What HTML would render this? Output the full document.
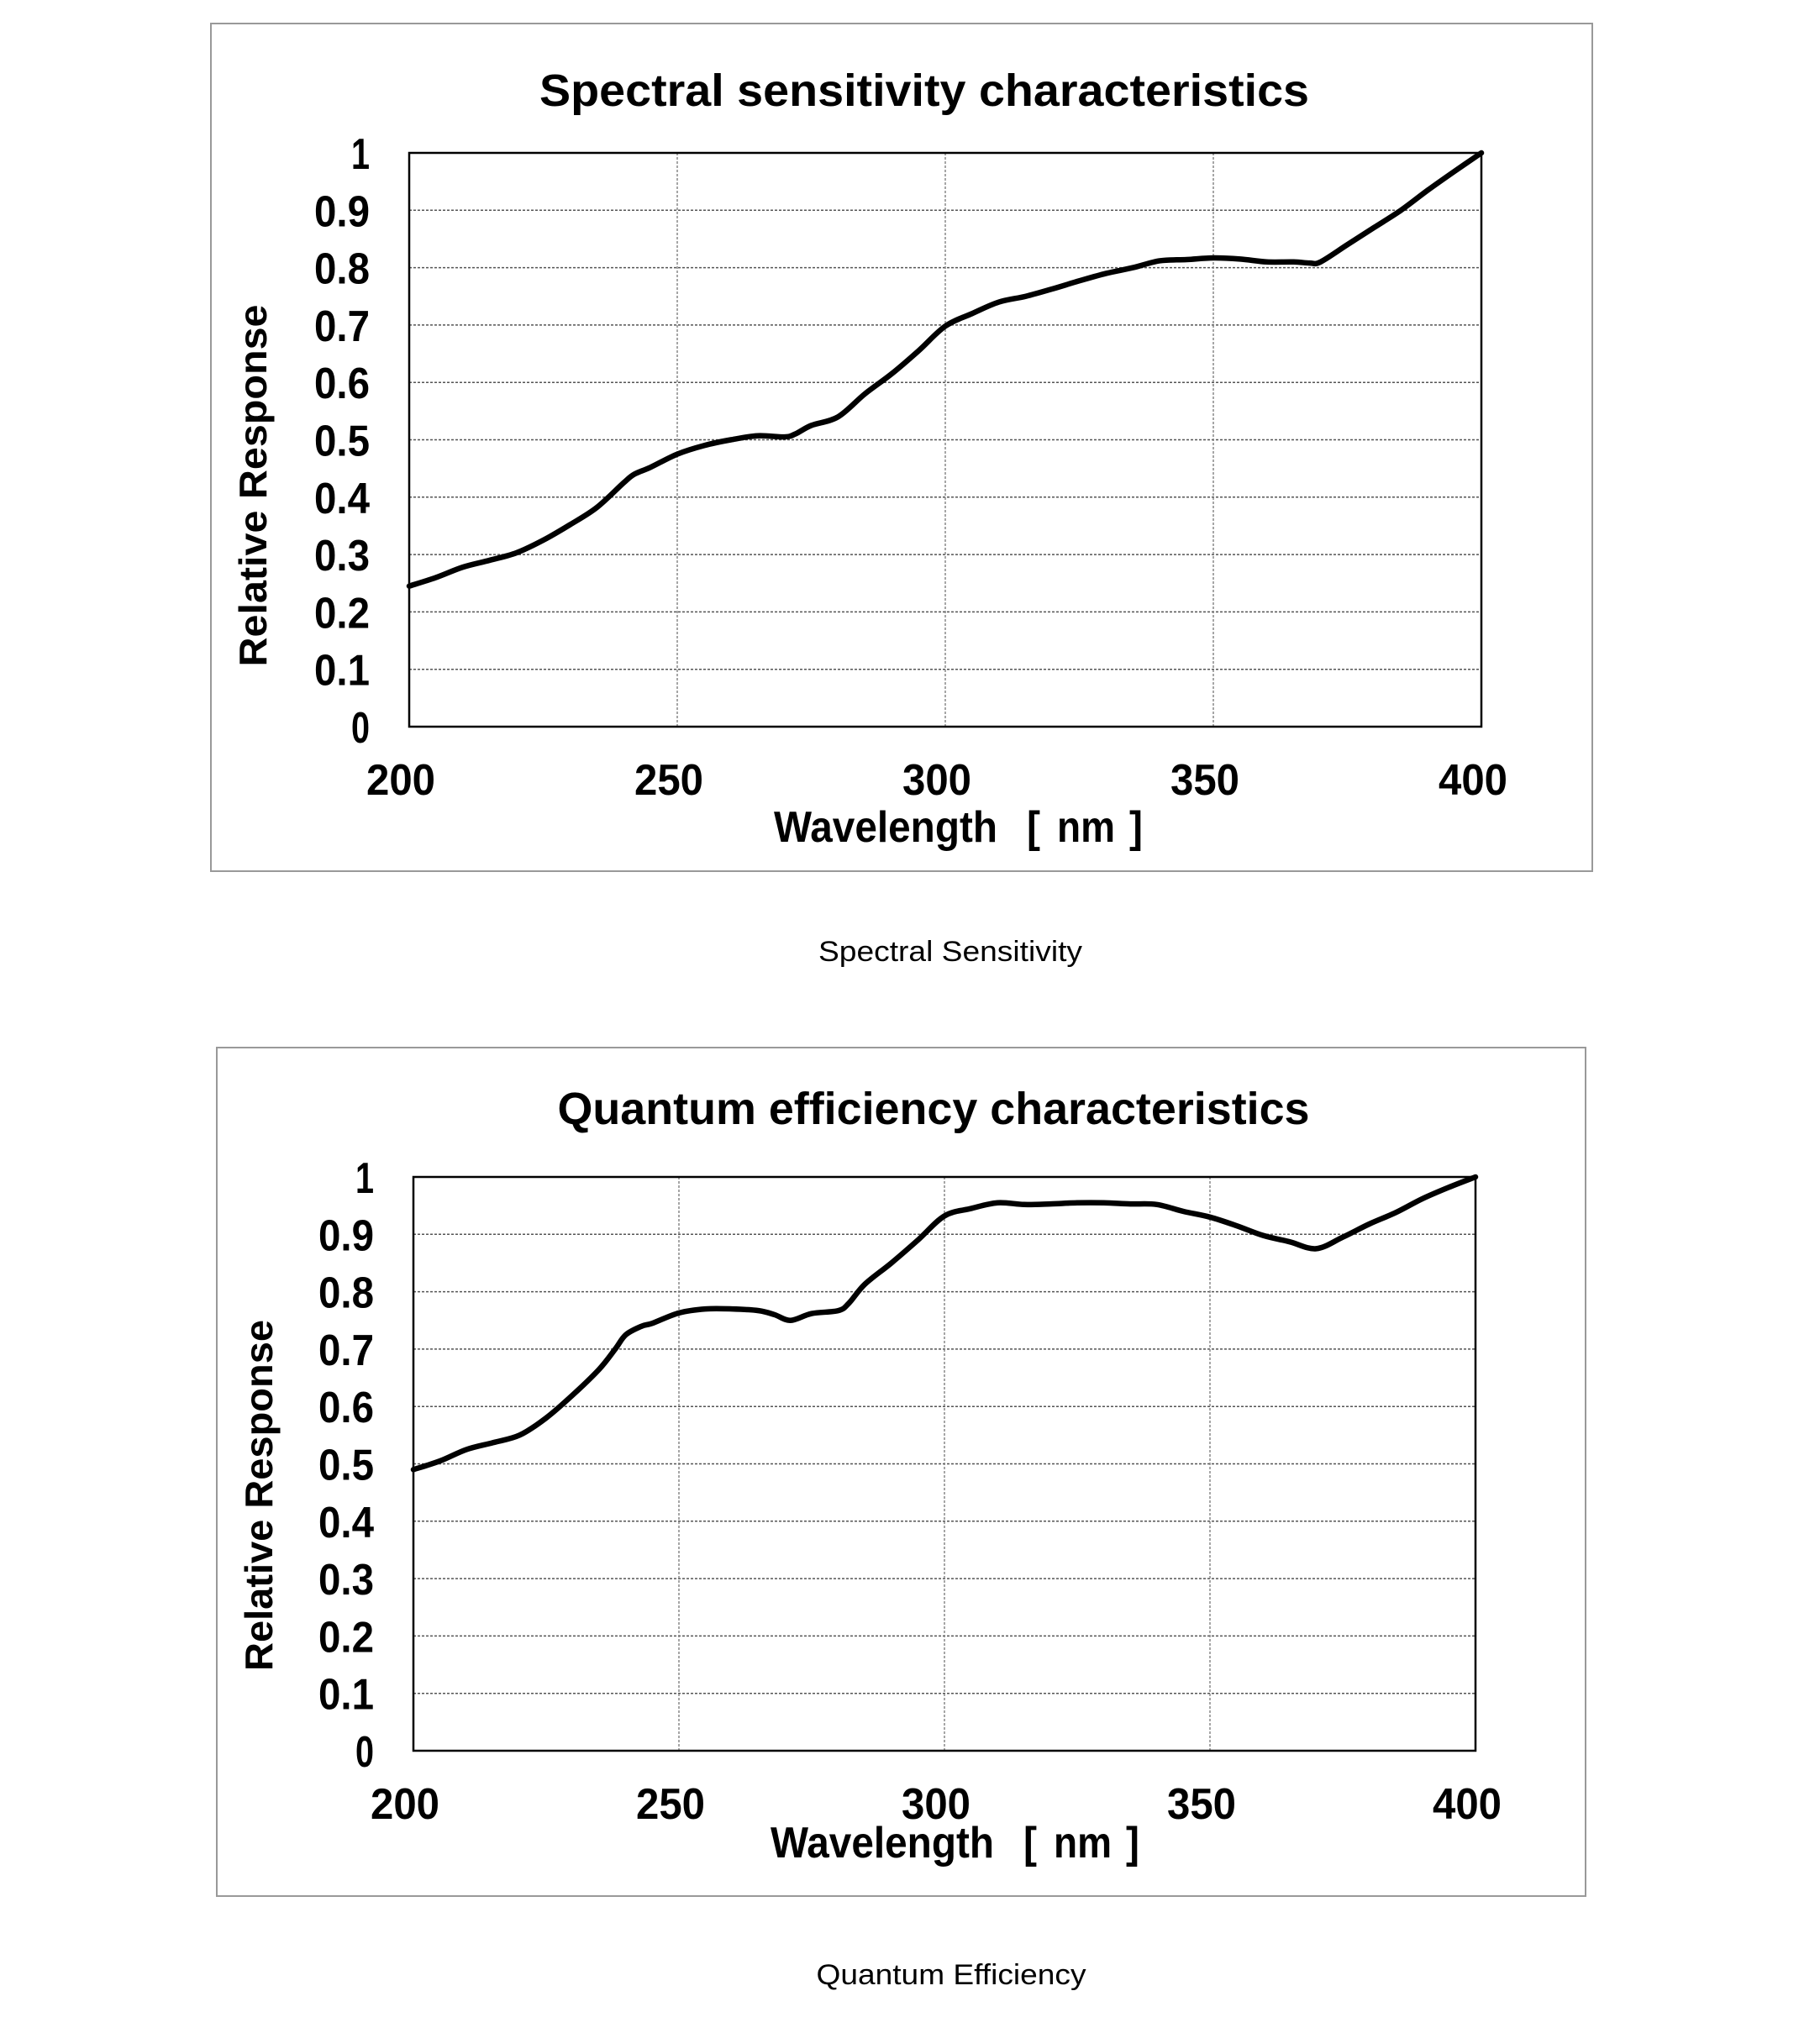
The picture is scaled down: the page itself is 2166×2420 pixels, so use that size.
<!DOCTYPE html>
<html><head><meta charset="utf-8">
<style>
html,body{margin:0;padding:0;background:#fff;width:2166px;height:2420px;overflow:hidden}
svg{display:block}
</style></head>
<body>
<svg id="svg" width="2166" height="2420" xmlns="http://www.w3.org/2000/svg">
<text x="1131" y="1144" font-family="Liberation Sans, sans-serif" font-size="34" text-anchor="middle" textLength="314" lengthAdjust="spacingAndGlyphs">Spectral Sensitivity</text>
<text x="1132" y="2362" font-family="Liberation Sans, sans-serif" font-size="34" text-anchor="middle" textLength="321" lengthAdjust="spacingAndGlyphs">Quantum Efficiency</text>
</svg>
<script>
const xTicks = [200, 250, 300, 350, 400];
const yTicks = [0, 0.1, 0.2, 0.3, 0.4, 0.5, 0.6, 0.7, 0.8, 0.9, 1];
const yTickLabels = ["0","0.1","0.2","0.3","0.4","0.5","0.6","0.7","0.8","0.9","1"];
const ssWavelengths = [200,205,210,215,220,225,230,235,240,242,245,250,255,260,265,270,272,275,280,285,290,295,300,305,310,315,320,325,330,335,340,345,350,355,360,365,368,370,375,380,385,390,395,400];
const ssValues = [0.245,0.26,0.278,0.29,0.303,0.325,0.352,0.382,0.425,0.44,0.452,0.475,0.49,0.5,0.507,0.505,0.51,0.525,0.54,0.58,0.615,0.655,0.698,0.72,0.74,0.75,0.763,0.777,0.79,0.8,0.812,0.814,0.817,0.815,0.81,0.81,0.808,0.81,0.84,0.87,0.9,0.935,0.968,1.0];
const qeWavelengths = [200,205,210,215,220,225,230,235,238,240,243,245,250,255,260,265,268,271,275,280,282,285,290,295,300,305,310,315,320,325,330,335,340,345,350,355,360,365,370,375,380,385,390,395,400];
const qeValues = [0.49,0.505,0.525,0.537,0.55,0.58,0.62,0.665,0.7,0.725,0.74,0.745,0.763,0.77,0.77,0.767,0.76,0.75,0.762,0.767,0.78,0.813,0.85,0.89,0.932,0.945,0.955,0.952,0.953,0.955,0.955,0.953,0.952,0.94,0.93,0.915,0.898,0.887,0.875,0.895,0.918,0.938,0.962,0.982,1.0];

const NS = "http://www.w3.org/2000/svg";
const svg = document.getElementById('svg');
function mk(tag, attrs, parent){const e=document.createElementNS(NS,tag);for(const k in attrs)e.setAttribute(k,attrs[k]);(parent||svg).appendChild(e);return e;}

function chart(cfg, xs, ys, prefix){
  const g = mk('g',{});
  
  
  const f = mk('rect',{x:cfg.fx,y:cfg.fy,width:cfg.fw,height:cfg.fh,fill:'#fff',stroke:'#999','stroke-width':2},g);
  
  
  const X = v => cfg.px + (v-200)/200*cfg.pw;
  const Y = v => cfg.py + (1-v)*cfg.ph;
  const t = mk('text',{x:cfg.tx,y:cfg.ty,'font-family':'Liberation Sans, sans-serif','font-size':54,'font-weight':'bold','text-anchor':'middle',textLength:cfg.tw,lengthAdjust:'spacingAndGlyphs'},g);
  t.textContent = cfg.title;
  
  
  yTicks.forEach((v,i)=>{
    if(v>0 && v<1){
      const l = mk('line',{x1:X(200),x2:X(400),y1:Y(v),y2:Y(v),stroke:'#555','stroke-width':1.5,'stroke-dasharray':'3,2'},g);
      
      
    }
    const tl = mk('text',{x:cfg.px-47,y:Y(v)+19,'font-family':'Liberation Sans, sans-serif','font-size':52,'font-weight':'bold','text-anchor':'end',textLength:yTickLabels[i].length>1?66:22,lengthAdjust:'spacingAndGlyphs'},g);
    tl.textContent = yTickLabels[i];
    
    
  });
  xTicks.forEach(v=>{
    if(v>200 && v<400){
      const l = mk('line',{x1:X(v),x2:X(v),y1:Y(1),y2:Y(0),stroke:'#888','stroke-width':1.5,'stroke-dasharray':'3,2'},g);
      
      
    }
    const tl = mk('text',{x:X(v)-10,y:Y(0)+81,'font-family':'Liberation Sans, sans-serif','font-size':52,'font-weight':'bold','text-anchor':'middle',textLength:82,lengthAdjust:'spacingAndGlyphs'},g);
    tl.textContent = String(v);
    
    
  });
  const b = mk('rect',{x:cfg.px,y:cfg.py,width:cfg.pw,height:cfg.ph,fill:'none',stroke:'#000','stroke-width':2.5},g);
  
  
  // x axis title pieces
  const xo = cfg.xtx - 1141;
  const xparts = [['Wavelength',921,266],['[',1222,16],['nm',1258,69],[']',1344,16]];
  xparts.forEach(p=>{
    const xt = mk('text',{x:p[1]+xo,y:cfg.xty,'font-family':'Liberation Sans, sans-serif','font-size':52,'font-weight':'bold',textLength:p[2],lengthAdjust:'spacingAndGlyphs'},g);
    xt.textContent = p[0];
    
    
  });
  const yt = mk('text',{x:0,y:0,'font-family':'Liberation Sans, sans-serif','font-size':46,'font-weight':'bold','text-anchor':'middle',textLength:cfg.ytl,lengthAdjust:'spacingAndGlyphs',transform:`translate(${cfg.ytx},${cfg.yty}) rotate(-90)`},g);
  yt.textContent = 'Relative Response';
  
  
  const pts = xs.map((x,i)=>[X(x),Y(ys[i])]);
  let d = `M${pts[0][0]},${pts[0][1]}`;
  for(let i=0;i<pts.length-1;i++){
    const p0=pts[Math.max(0,i-1)],p1=pts[i],p2=pts[i+1],p3=pts[Math.min(pts.length-1,i+2)];
    const c1=[p1[0]+(p2[0]-p0[0])/6,p1[1]+(p2[1]-p0[1])/6];
    const c2=[p2[0]-(p3[0]-p1[0])/6,p2[1]-(p3[1]-p1[1])/6];
    d+=` C${c1[0]},${c1[1]} ${c2[0]},${c2[1]} ${p2[0]},${p2[1]}`;
  }
  const line = mk('path',{d:d,fill:'none',stroke:'#000','stroke-width':6.5,'stroke-linejoin':'round','stroke-linecap':'round'},g);
  
  
}

chart({fx:251,fy:28,fw:1644,fh:1009,px:487,py:182,pw:1276,ph:683,
  title:'Spectral sensitivity characteristics',tx:1100,ty:126,tw:916,
  xtx:1141,xty:1002,ytx:317,yty:578,ytl:431}, ssWavelengths, ssValues, 'spectral');
chart({fx:258,fy:1247,fw:1629,fh:1010,px:492,py:1401,pw:1264,ph:683,
  title:'Quantum efficiency characteristics',tx:1111,ty:1338,tw:895,
  xtx:1137,xty:2211,ytx:324,yty:1780,ytl:418}, qeWavelengths, qeValues, 'quantum');
</script>
</body></html>
